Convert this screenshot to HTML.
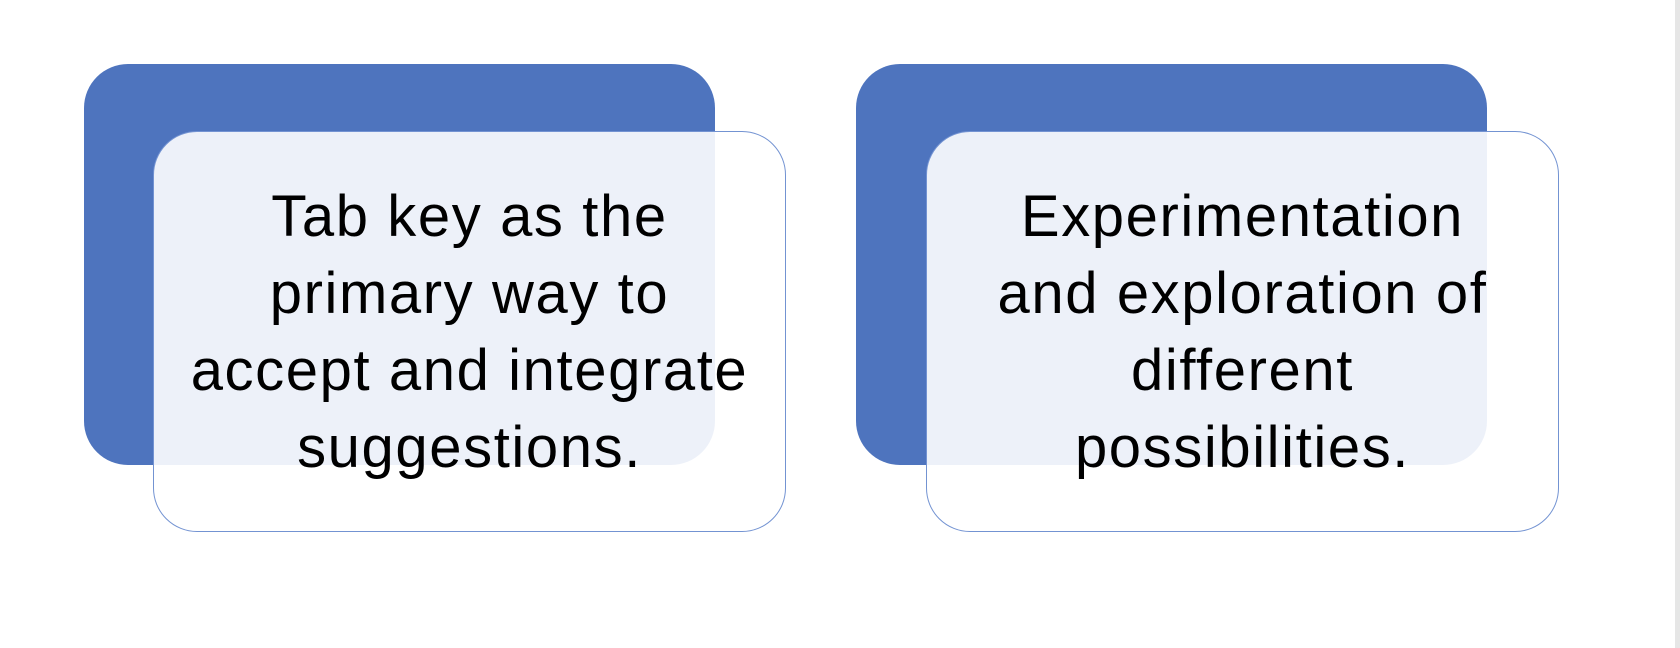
<!DOCTYPE html>
<html><head><style>
html,body{margin:0;padding:0;}
body{width:1680px;height:648px;background:#fff;position:relative;overflow:hidden;font-family:"Liberation Sans",sans-serif;}
.b{position:absolute;background:#4e74be;border-radius:44px;}
.w{position:absolute;background:rgba(255,255,255,0.9);border:1.5px solid #7393d2;border-radius:44px;box-sizing:border-box;display:flex;align-items:center;justify-content:center;text-align:center;}
.t{font-size:58px;line-height:77px;color:#000;letter-spacing:1.6px;white-space:nowrap;}
.sb{position:absolute;left:1675px;top:0;width:5px;height:648px;background:#e6e6e6;}
</style></head><body>
<div class="b" style="left:84px;top:64px;width:631px;height:401px;"></div>
<div class="w" style="left:153px;top:131px;width:633px;height:401px;"><div class="t">Tab key as the<br>primary way to<br>accept and integrate<br>suggestions.</div></div>
<div class="b" style="left:856px;top:64px;width:631px;height:401px;"></div>
<div class="w" style="left:926px;top:131px;width:633px;height:401px;"><div class="t">Experimentation<br>and exploration of<br>different<br>possibilities.</div></div>
<div class="sb"></div>
</body></html>
